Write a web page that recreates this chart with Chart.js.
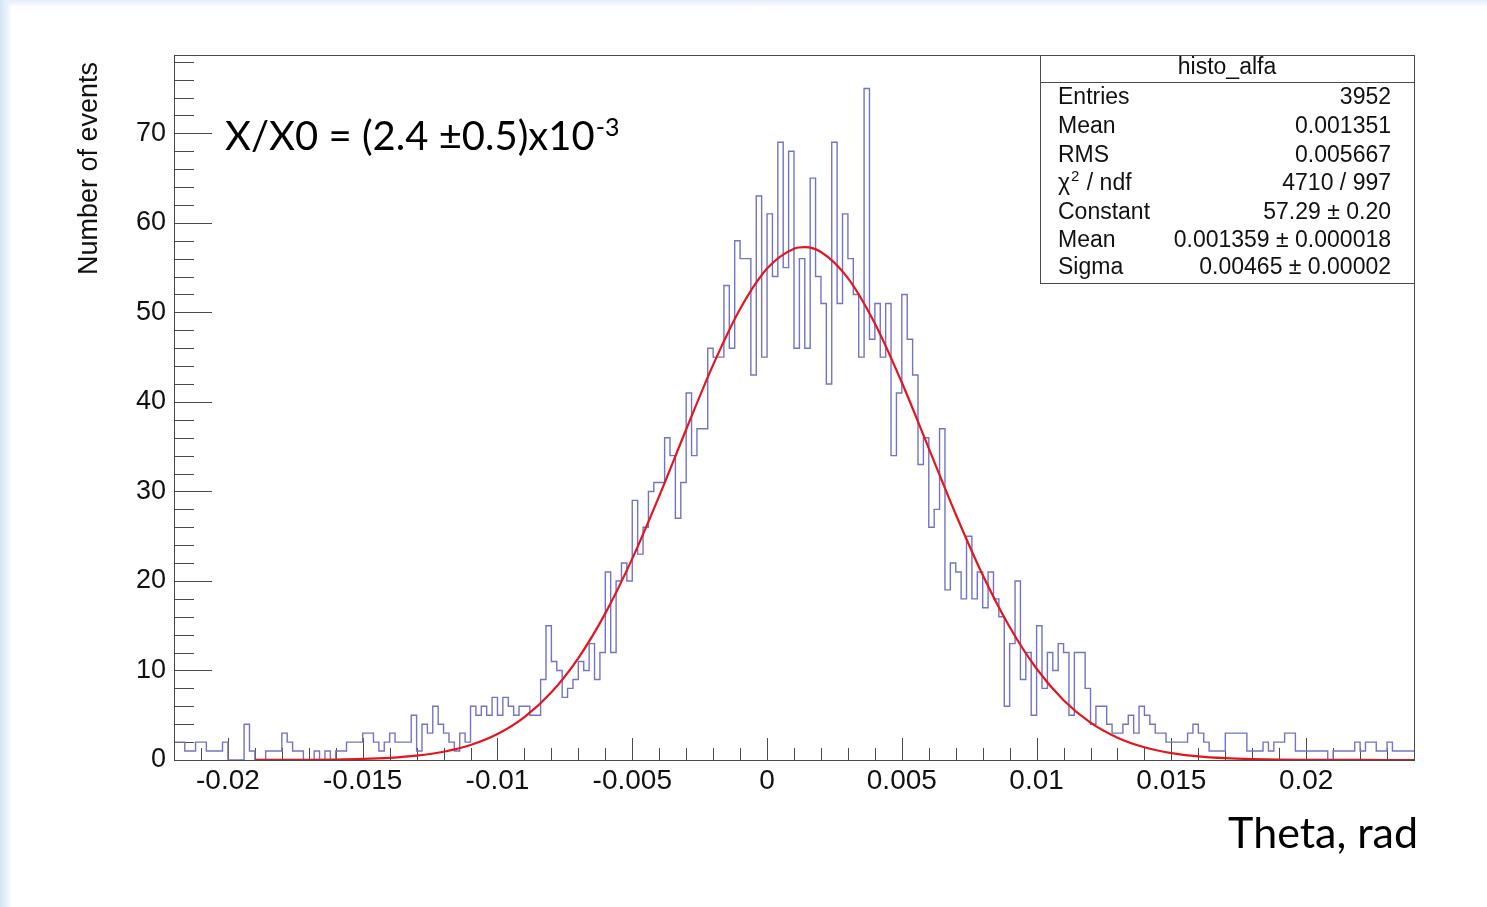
<!DOCTYPE html>
<html><head><meta charset="utf-8">
<script src="https://cdn.jsdelivr.net/npm/chart.js@4.4.1/dist/chart.umd.min.js"></script>
<style>
html,body{margin:0;padding:0;width:1487px;height:907px;overflow:hidden;background:#fff;}
#wrap{position:absolute;left:0;top:0;width:1487px;height:907px;
 background:
  linear-gradient(to right,#d3e4f6 0px,#e6f0fa 6px,rgba(255,255,255,0) 12px),
  linear-gradient(to bottom,#e2edf9 0px,rgba(255,255,255,0) 7px),
  #fff;}
canvas{position:absolute;left:0;top:0;}
</style></head><body><div id="wrap"><canvas id="c" width="1487" height="907"></canvas></div>
<script>
// ---- histogram definition ----
const histMin = -0.022;
const histMax = 0.024;
const binWidth = 0.0002;
const counts = [
 2,2,1,1,2,2,1,1,1,2,
 0,0,0,4,1,0,0,1,1,1,
 3,2,1,1,0,0,1,0,1,0,
 1,1,2,2,2,3,3,2,1,2,
 3,2,2,2,5,1,4,3,6,4,
 3,2,1,3,2,6,5,6,5,7,
 5,7,6,5,6,6,5,5,9,15,
 11,10,7,8,9,11,10,13,9,12,
 21,12,20,22,20,29,23,26,30,31,
 31,36,34,27,31,41,34,37,37,46,
 45,45,53,46,58,56,56,43,63,45,
 61,54,69,55,68,46,56,46,65,54,
 51,42,69,51,61,56,52,45,75,47,
 51,45,51,34,41,52,47,43,33,36,
 26,28,37,19,22,21,18,25,18,21,
 17,21,18,16,6,13,20,9,12,5,
 15,8,12,10,13,12,5,12,12,8,
 4,6,6,4,3,3,4,5,3,6,
 5,4,3,3,2,2,2,2,3,4,
 3,2,1,1,1,3,3,3,3,1,
 1,1,2,1,2,2,3,3,1,1,
 1,1,1,1,0,1,1,1,1,2,
 1,2,2,1,1,2,1,1,1,1
];
// ---- fitted curve ----
const fitX = [-0.019,-0.018,-0.017,-0.016,-0.015,-0.014,-0.013,-0.012,-0.011,-0.010,-0.009,-0.008,-0.007,-0.006,-0.005,-0.004,-0.003,-0.002,-0.001,0,0.001,0.0014,0.002,0.003,0.004,0.005,0.006,0.007,0.008,0.009,0.010,0.011,0.012,0.013,0.014,0.015,0.016,0.017,0.018,0.019,0.020,0.021,0.022,0.023,0.024];
const fitY = [0.004,0.010,0.024,0.054,0.118,0.245,0.487,0.924,1.675,2.898,4.790,7.559,11.387,16.376,22.491,29.489,36.920,44.136,50.373,54.895,57.12,57.29,56.748,53.83,48.756,42.163,34.814,27.447,20.662,14.850,10.191,6.678,4.176,2.496,1.424,0.775,0.403,0.200,0.095,0.043,0.019,0.008,0.003,0.001,0.0004];
// ---- axes ----
const yMax = 78.75;
const xTickValues = [-0.02,-0.015,-0.01,-0.005,0,0.005,0.01,0.015,0.02];
const xTickLabels = ['-0.02','-0.015','-0.01','-0.005','0','0.005','0.01','0.015','0.02'];
const yTickValues = [0,10,20,30,40,50,60,70];
const yTickLabels = ['0','10','20','30','40','50','60','70'];
const xTitle = 'Theta, rad';
const yTitle = 'Number of events';
const annotationMain = 'X/X0 = (2.4 \u00B10.5)x10';
const annotationSup = '-3';
// ---- stats box ----
const statsTitle = 'histo_alfa';
const statsNames = ['Entries','Mean','RMS','\u03C7','Constant','Mean','Sigma'];
const statsValues = ['3952','0.001351','0.005667','4710 / 997','57.29 \u00B1 0.20','0.001359 \u00B1 0.000018','0.00465 \u00B1 0.00002'];

const histPoints = counts.map((c, i) => ({x: histMin + i * binWidth, y: c}));
histPoints.push({x: histMin + counts.length * binWidth, y: counts[counts.length - 1]});
const fitPoints = fitX.map((x, i) => ({x, y: fitY[i]}));

function findLabel(values, labels, v) {
  for (let i = 0; i < values.length; i++) if (Math.abs(values[i] - v) < 1e-9) return labels[i];
  return null;
}
const HELV = '"Liberation Sans", Arial, Helvetica, sans-serif';

const decor = {
  id: 'decor',
  beforeDatasetsDraw(chart) {
    const {ctx, chartArea: a, scales: {x, y}} = chart;
    ctx.save();
    ctx.strokeStyle = '#4a4a4a';
    ctx.lineWidth = 1;
    ctx.beginPath();
    y.ticks.forEach(t => {
      const py = Math.round(y.getPixelForValue(t.value)) + 0.5;
      const len = findLabel(yTickValues, yTickLabels, t.value) !== null ? 38 : 20;
      ctx.moveTo(a.left, py); ctx.lineTo(a.left + len, py);
    });
    x.ticks.forEach(t => {
      const px = Math.round(x.getPixelForValue(t.value)) + 0.5;
      const len = findLabel(xTickValues, xTickLabels, t.value) !== null ? 22 : 12;
      ctx.moveTo(px, a.bottom); ctx.lineTo(px, a.bottom - len);
    });
    ctx.stroke();
    ctx.restore();
  },
  afterDatasetsDraw(chart) {
    const {ctx, chartArea: a} = chart;
    ctx.save();
    // frame
    ctx.strokeStyle = '#4a4a4a';
    ctx.lineWidth = 1;
    ctx.strokeRect(Math.round(a.left) + 0.5, Math.round(a.top) + 0.5, Math.round(a.right - a.left), Math.round(a.bottom - a.top));

    // y title
    ctx.fillStyle = '#111';
    ctx.font = '27px ' + HELV;
    ctx.save();
    ctx.translate(97, 62);
    ctx.rotate(-Math.PI / 2);
    ctx.textAlign = 'right';
    ctx.textBaseline = 'alphabetic';
    ctx.fillText(yTitle, 0, 0);
    ctx.restore();

    // x title
    ctx.font = '43px Lato, "Open Sans", sans-serif';
    ctx.textAlign = 'right';
    ctx.textBaseline = 'alphabetic';
    ctx.fillStyle = '#000';
    ctx.fillText(xTitle, 1418, 848);

    // annotation
    ctx.textAlign = 'left';
    ctx.font = '40px Lato, "Open Sans", sans-serif';
    ctx.fillText(annotationMain, 225, 150);
    const w = ctx.measureText(annotationMain).width;
    ctx.font = '25px Lato, "Open Sans", sans-serif';
    ctx.fillText(annotationSup, 225 + w + 1, 136);

    // stats box
    const bx = 1040, by = 55, bw = 1414 - 1040, bh = 283 - 55;
    ctx.fillStyle = '#fff';
    ctx.fillRect(bx, by, bw, bh);
    ctx.strokeStyle = '#4a4a4a';
    ctx.strokeRect(bx + 0.5, by + 0.5, bw, bh);
    ctx.beginPath(); ctx.moveTo(bx, 82.5); ctx.lineTo(bx + bw, 82.5); ctx.stroke();
    ctx.fillStyle = '#111';
    ctx.font = '23px ' + HELV;
    ctx.textBaseline = 'middle';
    ctx.textAlign = 'center';
    ctx.fillText(statsTitle, bx + bw / 2, 68);
    const rowY = [98, 127, 156, 184, 213, 241, 268];
    statsNames.forEach((n, i) => {
      ctx.textAlign = 'left';
      ctx.font = '23px ' + HELV;
      ctx.fillText(n, 1058, rowY[i]);
      if (n === '\u03C7') {
        const cw = ctx.measureText(n).width;
        ctx.font = '15px ' + HELV;
        ctx.fillText('2', 1058 + cw + 1, rowY[i] - 7);
        const sw = ctx.measureText('2').width;
        ctx.font = '23px ' + HELV;
        ctx.fillText(' / ndf', 1058 + cw + 2 + sw, rowY[i]);
      }
      ctx.textAlign = 'right';
      ctx.fillText(statsValues[i], 1391, rowY[i]);
    });
    ctx.restore();
  }
};

new Chart(document.getElementById('c'), {
  type: 'line',
  data: {
    datasets: [
      {
        data: histPoints,
        stepped: true,
        borderColor: '#7474c4',
        borderWidth: 1.4,
        pointRadius: 0,
        fill: false,
        order: 2
      },
      {
        data: fitPoints,
        borderColor: '#e3161f',
        borderWidth: 2.2,
        pointRadius: 0,
        fill: false,
        cubicInterpolationMode: 'monotone',
        clip: 4,
        order: 1
      }
    ]
  },
  options: {
    responsive: false,
    animation: false,
    events: [],
    layout: {padding: {left: 0, top: 55, right: 73, bottom: 0}},
    plugins: {legend: {display: false}, tooltip: {enabled: false}},
    scales: {
      x: {
        type: 'linear',
        min: histMin,
        max: histMax,
        grid: {display: false, drawTicks: false},
        border: {display: false},
        ticks: {
          stepSize: 0.001,
          autoSkip: false,
          includeBounds: false,
          maxRotation: 0,
          padding: 4,
          color: '#111',
          font: {family: HELV, size: 28},
          callback: v => findLabel(xTickValues, xTickLabels, v) ?? ''
        },
        afterFit: s => { s.height = 907 - 760; }
      },
      y: {
        type: 'linear',
        min: 0,
        max: yMax,
        grid: {display: false, drawTicks: false},
        border: {display: false},
        ticks: {
          stepSize: 2,
          autoSkip: false,
          includeBounds: false,
          padding: 8,
          color: '#111',
          font: {family: HELV, size: 27},
          callback: v => findLabel(yTickValues, yTickLabels, v) ?? ''
        },
        afterFit: s => { s.width = 174; }
      }
    }
  },
  plugins: [decor]
});
</script></body></html>
